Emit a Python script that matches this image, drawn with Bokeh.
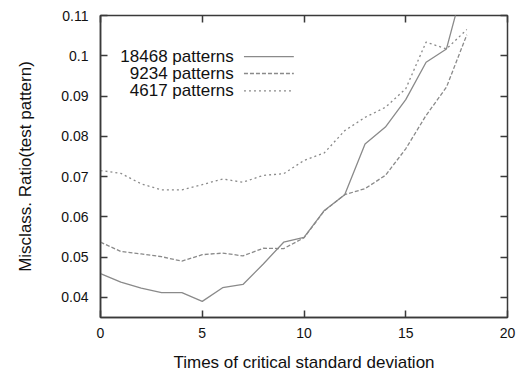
from bokeh.plotting import figure
from bokeh.models import LinearAxis, FixedTicker, Range1d
from bokeh.core.properties import value
from bokeh.embed import file_html
from bokeh.resources import INLINE

# ---- data ----
x_vals = list(range(0, 19))
s18468 = [0.0459, 0.0438, 0.0423, 0.0412, 0.0412, 0.0390, 0.0424, 0.0432, 0.0483, 0.0537,
          0.0549, 0.0616, 0.0655, 0.0781, 0.0823, 0.0891, 0.0984, 0.1017, 0.1206]
s9234 = [0.0537, 0.0514, 0.0508, 0.0501, 0.0490, 0.0506, 0.0510, 0.0503, 0.0522, 0.0521,
         0.0548, 0.0615, 0.0655, 0.0670, 0.0703, 0.0769, 0.0852, 0.0922, 0.1052]
s4617 = [0.0715, 0.0708, 0.0682, 0.0667, 0.0667, 0.0680, 0.0694, 0.0686, 0.0703, 0.0707,
         0.0740, 0.0759, 0.0814, 0.0847, 0.0872, 0.0918, 0.1034, 0.1017, 0.1065]
series_labels = ["18468 patterns", "9234 patterns", "4617 patterns"]
x_ticks = [0, 5, 10, 15, 20]
y_ticks = [0.04, 0.05, 0.06, 0.07, 0.08, 0.09, 0.10, 0.11]
y_tick_labels = ["0.04", "0.05", "0.06", "0.07", "0.08", "0.09", "0.1", "0.11"]

FONT = "Liberation Sans"
LINE_COLOR = "#8a8a8a"
AXIS_COLOR = "#3a3a3a"

p = figure(output_backend="svg", toolbar_location=None,
           frame_width=407, frame_height=302,
           x_range=Range1d(0, 20), y_range=Range1d(0.035, 0.11),
           min_border_left=100, min_border_right=11, min_border_top=15, min_border_bottom=54,
           x_axis_label="Times of critical standard deviation",
           y_axis_label="Misclass. Ratio(test pattern)")
p.grid.visible = False
p.background_fill_color = "white"
p.border_fill_color = "white"
p.outline_line_color = AXIS_COLOR
p.outline_line_width = 1.5

styles = [("solid", series_labels[0], s18468), ("4 2", series_labels[1], s9234), ("2 3", series_labels[2], s4617)]
for dash, lab, ys in styles:
    p.line(x_vals, ys, line_color=LINE_COLOR, line_width=1.3, line_dash=dash)

# gnuplot-style key: label right-aligned, sample on the right
key_x_text = 6.55
key_x0, key_x1 = 7.05, 9.5
key_ys = [0.0998, 0.0956, 0.0913]
for (dash, lab, _), ky in zip(styles, key_ys):
    p.text(x=[key_x_text], y=[ky], text=[lab], text_align="right", text_baseline="middle",
           text_font=value(FONT), text_font_size="17px", text_color="#111111")
    p.segment(x0=[key_x0], y0=[ky], x1=[key_x1], y1=[ky], line_color=LINE_COLOR,
              line_width=1.3, line_dash=dash)

for ax in (p.xaxis[0], p.yaxis[0]):
    ax.major_tick_in = 7
    ax.major_tick_out = 0
    ax.minor_tick_line_color = None
    ax.axis_line_color = AXIS_COLOR
    ax.axis_line_width = 1.5
    ax.major_tick_line_color = AXIS_COLOR
    ax.major_tick_line_width = 1.5
    ax.major_label_text_font = FONT
    ax.major_label_text_font_size = "14px"
    ax.major_label_text_color = "#111111"
    ax.axis_label_text_font = FONT
    ax.axis_label_text_font_size = "17px"
    ax.axis_label_text_font_style = "normal"
    ax.axis_label_text_color = "#111111"

p.xaxis[0].ticker = FixedTicker(ticks=x_ticks)
p.yaxis[0].ticker = FixedTicker(ticks=y_ticks)
p.yaxis[0].major_label_overrides = {t: l for t, l in zip(y_ticks, y_tick_labels)}
p.xaxis[0].major_label_standoff = 10
p.xaxis[0].axis_label_standoff = 12
p.yaxis[0].major_label_standoff = 12
p.yaxis[0].axis_label_standoff = 23

# mirrored ticks on top and right (no labels)
for side, ticks in (("right", y_ticks), ("above", x_ticks)):
    ax = LinearAxis(ticker=FixedTicker(ticks=ticks))
    ax.major_tick_in = 7
    ax.major_tick_out = 0
    ax.minor_tick_line_color = None
    ax.axis_line_color = None
    ax.major_tick_line_color = AXIS_COLOR
    ax.major_tick_line_width = 1.5
    ax.major_label_overrides = {t: "" for t in ticks}
    ax.major_label_text_color = None
    ax.major_label_standoff = 0
    p.add_layout(ax, side)

open("out.html", "w").write(file_html(p, INLINE))
